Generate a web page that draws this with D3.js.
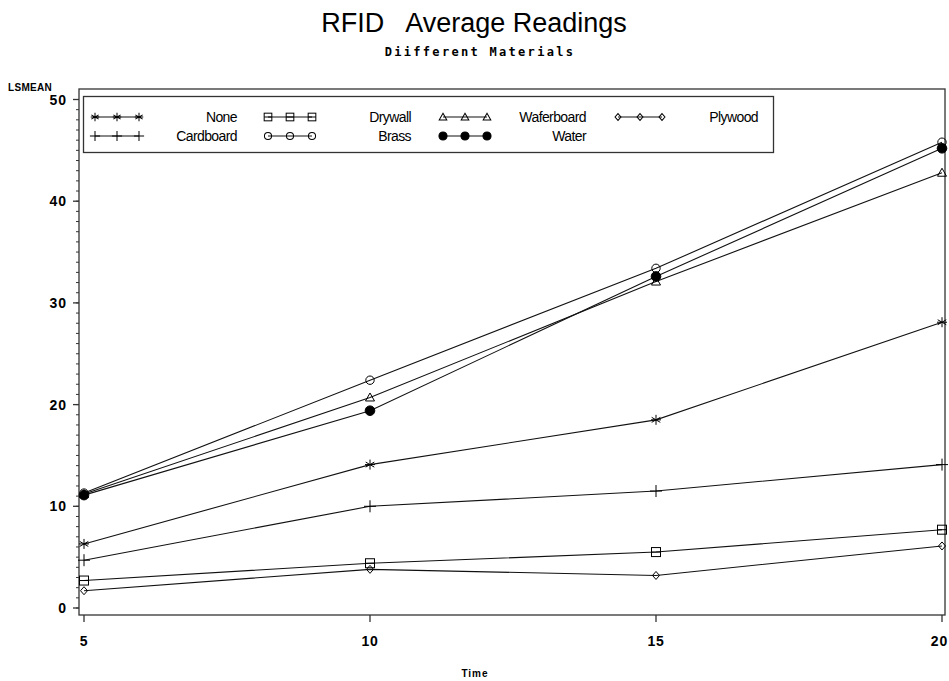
<!DOCTYPE html>
<html>
<head>
<meta charset="utf-8">
<script src="https://cdn.jsdelivr.net/npm/d3@7/dist/d3.min.js"></script>
<style>
  body { margin: 0; background: #fff; }
  svg { display: block; }
</style>
</head>
<body>
<svg id="chart" width="949" height="681"></svg>
<script>
// ---------- data ----------
const times = [5, 10, 15, 20];
const materials = ["None", "Drywall", "Waferboard", "Plywood", "Cardboard", "Brass", "Water"];
const symbols = ["star", "square", "triangle", "diamond", "plus", "circle", "dot"];
const noneVals       = [6.3, 14.1, 18.5, 28.1];
const drywallVals    = [2.7, 4.4, 5.5, 7.7];
const waferboardVals = [11.2, 20.7, 32.1, 42.8];
const plywoodVals    = [1.7, 3.8, 3.2, 6.1];
const cardboardVals  = [4.7, 10.0, 11.5, 14.1];
const brassVals      = [11.3, 22.4, 33.4, 45.8];
const waterVals      = [11.1, 19.4, 32.6, 45.2];
const seriesValues = [noneVals, drywallVals, waferboardVals, plywoodVals, cardboardVals, brassVals, waterVals];
const yTicks = [0, 10, 20, 30, 40, 50];
const xTicks = [5, 10, 15, 20];
const titleText = "RFID   Average Readings";
const subtitleText = "Diifferent Materials";
const yLabel = "LSMEAN";
const xLabel = "Time";

// ---------- layout ----------
const W = 949;
const svg = d3.select("#chart");
const frame = { left: 79, right: 945, top: 89, bottom: 615 };
const x = d3.scaleLinear().domain([5, 20]).range([84, 942]);
const y = d3.scaleLinear().domain([0, 50]).range([608, 99.5]);

// title
svg.append("text").attr("x", 474).attr("y", 32).attr("text-anchor", "middle")
  .attr("font-family", "Liberation Sans, Arial, sans-serif").attr("font-size", 27)
  .attr("xml:space", "preserve").style("white-space", "pre")
  .text(titleText);
svg.append("text").attr("x", 480).attr("y", 56).attr("text-anchor", "middle")
  .attr("font-family", "DejaVu Sans Mono, monospace").attr("font-weight", "bold")
  .attr("font-size", 12).attr("letter-spacing", 2.3)
  .text(subtitleText);

// frame
const g = svg.append("g");
g.append("rect").attr("x", frame.left).attr("y", frame.top)
  .attr("width", frame.right - frame.left).attr("height", frame.bottom - frame.top)
  .attr("fill", "none").attr("stroke", "#333").attr("stroke-width", 1.3);

// y axis
const yMinor = d3.range(0, 51, 1);
g.selectAll(".ymin").data(yMinor).enter().append("line")
  .attr("x1", frame.left - 3).attr("x2", frame.left)
  .attr("y1", d => y(d)).attr("y2", d => y(d))
  .attr("stroke", "#333").attr("stroke-width", 1);
g.selectAll(".ymaj").data(yTicks).enter().append("line")
  .attr("x1", frame.left - 6).attr("x2", frame.left)
  .attr("y1", d => y(d)).attr("y2", d => y(d))
  .attr("stroke", "#333").attr("stroke-width", 1.3);
g.selectAll(".ylab").data(yTicks).enter().append("text")
  .attr("x", 67).attr("y", d => y(d) + 5).attr("text-anchor", "end")
  .attr("font-family", "Liberation Sans, Arial, sans-serif").attr("font-weight", "bold")
  .attr("font-size", 14).attr("letter-spacing", 1)
  .text(d => d);
svg.append("text").attr("x", 8).attr("y", 91)
  .attr("font-family", "Liberation Sans, Arial, sans-serif").attr("font-weight", "bold")
  .attr("font-size", 10).attr("letter-spacing", 0.3)
  .text(yLabel);

// x axis
g.selectAll(".xt").data(xTicks).enter().append("line")
  .attr("x1", d => x(d)).attr("x2", d => x(d))
  .attr("y1", frame.bottom).attr("y2", frame.bottom + 7)
  .attr("stroke", "#333").attr("stroke-width", 1.3);
g.selectAll(".xlab").data(xTicks).enter().append("text")
  .attr("font-family", "Liberation Sans, Arial, sans-serif").attr("font-weight", "bold")
  .attr("font-size", 14).attr("letter-spacing", 0.8)
  .text(d => d)
  .each(function(d) {
    const t = d3.select(this);
    const w = this.getComputedTextLength();
    let cx = x(d) - w / 2;
    if (cx + w > W - 1) cx = W - 1 - w;
    t.attr("x", cx).attr("y", 646);
  });
svg.append("text").attr("x", 475).attr("y", 677).attr("text-anchor", "middle")
  .attr("font-family", "Liberation Sans, Arial, sans-serif").attr("font-weight", "bold")
  .attr("font-size", 10).attr("letter-spacing", 1)
  .text(xLabel);

// markers
function drawMarker(sel, type, cx, cy, sc) {
  sc = sc || 1;
  const s = sel.append("g").attr("transform", `translate(${cx},${cy}) scale(${sc})`)
    .attr("stroke", "#000").attr("stroke-width", 1 / sc).attr("fill", "none");
  if (type === "star") {
    s.append("path").attr("d", "M0,-5V5M-4.3,-2.5L4.3,2.5M-4.3,2.5L4.3,-2.5M-5,0H5");
  } else if (type === "plus") {
    s.append("path").attr("d", "M0,-6V6M-6,0H6");
  } else if (type === "square") {
    s.append("rect").attr("x", -4.5).attr("y", -4.5).attr("width", 9).attr("height", 9);
    s.append("path").attr("d", "M-4.5,0H4.5");
  } else if (type === "circle") {
    s.append("circle").attr("r", 4.2);
  } else if (type === "triangle") {
    s.append("path").attr("d", "M0,-4.5L4.5,3.5H-4.5Z");
  } else if (type === "diamond") {
    s.append("path").attr("d", "M0,-4L3.5,0L0,4L-3.5,0Z");
  } else if (type === "dot") {
    s.append("circle").attr("r", 4.8).attr("fill", "#000");
  }
}

// lines
const line = d3.line().x((d, i) => x(times[i])).y(d => y(d));
const lg = svg.append("g");
seriesValues.forEach((vals, k) => {
  lg.append("path").attr("d", line(vals)).attr("fill", "none")
    .attr("stroke", "#111").attr("stroke-width", 1.1);
});
seriesValues.forEach((vals, k) => {
  vals.forEach((v, i) => drawMarker(lg, symbols[k], x(times[i]), y(v)));
});

// legend
const leg = svg.append("g");
leg.append("rect").attr("x", 83.5).attr("y", 96.5).attr("width", 690).attr("height", 56)
  .attr("fill", "none").attr("stroke", "#333").attr("stroke-width", 1.3);
const colSym = [95, 268, 443, 618];
const colLab = [237, 411, 586, 758];
const rowY = [117, 136];
materials.forEach((m, k) => {
  const col = k % 4, row = Math.floor(k / 4);
  const x0 = colSym[col], yy = rowY[row];
  leg.append("line").attr("x1", x0).attr("x2", x0 + 44).attr("y1", yy).attr("y2", yy)
    .attr("stroke", "#111").attr("stroke-width", 1.1);
  [0, 22, 44].forEach(dx => drawMarker(leg, symbols[k], x0 + dx, yy, 0.85));
  leg.append("text").attr("x", colLab[col]).attr("y", yy + 5).attr("text-anchor", "end")
    .attr("font-family", "Liberation Sans, Arial, sans-serif").attr("font-size", 14)
    .attr("letter-spacing", -0.6)
    .text(m);
});
</script>
</body>
</html>
